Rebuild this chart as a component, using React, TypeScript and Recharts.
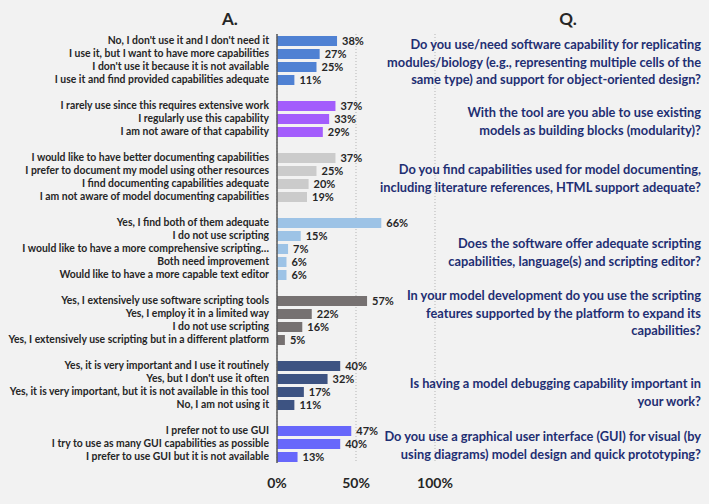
import React from "react";
import { BarChart, Bar, XAxis, YAxis, CartesianGrid, Cell, LabelList } from "recharts";

// answers per question, top to bottom
const replicationLabels = [
  "No, I don't use it and I don't need it",
  "I use it, but I want to have more capabilities",
  "I don't use it because it is not available",
  "I use it and find provided capabilities adequate",
];
const replicationValues = [38, 27, 25, 11];

const modularityLabels = [
  "I rarely use since this requires extensive work",
  "I regularly use this capability",
  "I am not aware of that capability",
];
const modularityValues = [37, 33, 29];

const documentingLabels = [
  "I would like to have better documenting capabilities",
  "I prefer to document my model using other resources",
  "I find documenting capabilities adequate",
  "I am not aware of model documenting capabilities",
];
const documentingValues = [37, 25, 20, 19];

const scriptingEditorLabels = [
  "Yes, I find both of them adequate",
  "I do not use scripting",
  "I would like to have a more comprehensive scripting…",
  "Both need improvement",
  "Would like to have a more capable text editor",
];
const scriptingEditorValues = [66, 15, 7, 6, 6];

const scriptingUseLabels = [
  "Yes, I extensively use software scripting tools",
  "Yes, I employ it in a limited way",
  "I do not use scripting",
  "Yes, I extensively use scripting but in a different platform",
];
const scriptingUseValues = [57, 22, 16, 5];

const debuggingLabels = [
  "Yes, it is very important and I use it routinely",
  "Yes, but I don't use it often",
  "Yes, it is very important, but it is not available in this tool",
  "No, I am not using it",
];
const debuggingValues = [40, 32, 17, 11];

const guiLabels = [
  "I prefer not to use GUI",
  "I try to use as many GUI capabilities as possible",
  "I prefer to use GUI but it is not available",
];
const guiValues = [47, 40, 13];

const questions = [
  ["Do you use/need software capability for replicating", "modules/biology (e.g., representing multiple cells of the", "same type) and support for object-oriented design?"],
  ["With the tool are you able to use existing", "models as building blocks (modularity)?"],
  ["Do you find capabilities used for model documenting,", "including literature references, HTML support adequate?"],
  ["Does the software offer adequate scripting", "capabilities, language(s) and scripting editor?"],
  ["In your model development do you use the scripting", "features supported by the platform to expand its", "capabilities?"],
  ["Is having a model debugging capability important in", "your work?"],
  ["Do you use a graphical user interface (GUI) for visual (by", "using diagrams) model design and quick prototyping?"],
];

const xTicks = [0, 50, 100];

const GROUP_COLORS = ["#4f81d3", "#a35dfc", "#cbcbcb", "#9dc3e6", "#767171", "#3d5382", "#6767fb"];
const QUESTION_TOPS = [36, 104, 161, 235, 287, 375, 428];
const FONT = "Lato, 'Open Sans', sans-serif";

const groups = [
  { labels: replicationLabels, values: replicationValues },
  { labels: modularityLabels, values: modularityValues },
  { labels: documentingLabels, values: documentingValues },
  { labels: scriptingEditorLabels, values: scriptingEditorValues },
  { labels: scriptingUseLabels, values: scriptingUseValues },
  { labels: debuggingLabels, values: debuggingValues },
  { labels: guiLabels, values: guiValues },
];

type Row = { key: string; label: string; value: number | null; color: string };

const rows: Row[] = [];
groups.forEach((g, gi) => {
  if (gi > 0) rows.push({ key: `gap-${gi}`, label: "", value: null, color: "none" });
  g.labels.forEach((label, i) =>
    rows.push({ key: `g${gi}-${i}`, label, value: g.values[i], color: GROUP_COLORS[gi] })
  );
});
const labelByKey = new Map(rows.map((r) => [r.key, r.label]));

// single-line answer label, no wrapping
function AnswerTick(props: any) {
  const { x, y, payload } = props;
  const text = labelByKey.get(payload.value) ?? "";
  if (!text) return null;
  return (
    <text
      x={x}
      y={y}
      dy="0.35em"
      textAnchor="end"
      fontSize={10.4}
      fontWeight={700}
      fill="#262626"
      fontFamily={FONT}
    >
      {text}
    </text>
  );
}

export default function App() {
  return (
    <div
      style={{
        position: "relative",
        width: 709,
        height: 504,
        background: "#f2f2f2",
        fontFamily: FONT,
        overflow: "hidden",
      }}
    >
      <style>{`body{margin:0}`}</style>
      <BarChart
        width={709}
        height={504}
        data={rows}
        layout="vertical"
        margin={{ top: 34, right: 274, bottom: 11, left: 0 }}
        barSize={10}
      >
        <CartesianGrid horizontal={false} stroke="#b5b5b5" strokeDasharray="1 2" />
        <XAxis
          type="number"
          domain={[0, 100]}
          ticks={xTicks}
          tickFormatter={(v) => `${v}%`}
          axisLine={false}
          tickLine={false}
          height={30}
          tickMargin={9}
          tick={{ fontSize: 14, fontWeight: 700, fill: "#262626", fontFamily: FONT }}
        />
        <YAxis
          type="category"
          dataKey="key"
          width={277}
          interval={0}
          tickLine={false}
          axisLine={{ stroke: "#595959", strokeWidth: 1.5 }}
          tick={<AnswerTick />}
        />
        <Bar dataKey="value" isAnimationActive={false}>
          {rows.map((r) => (
            <Cell key={r.key} fill={r.color} />
          ))}
          <LabelList
            dataKey="value"
            position="right"
            offset={5}
            formatter={(v: any) => (v == null ? "" : `${v}%`)}
            style={{ fontSize: 11, fontWeight: 700, fill: "#262626", fontFamily: FONT }}
          />
        </Bar>
      </BarChart>

      <div style={{ position: "absolute", left: 200, width: 60, top: 8, textAlign: "center", fontWeight: 700, fontSize: 17, color: "#262626" }}>
        A.
      </div>
      <div style={{ position: "absolute", left: 538, width: 60, top: 8, textAlign: "center", fontWeight: 700, fontSize: 17, color: "#262626" }}>
        Q.
      </div>

      {questions.map((lines, i) => (
        <div
          key={i}
          style={{
            position: "absolute",
            right: 8,
            top: QUESTION_TOPS[i],
            textAlign: "right",
            fontWeight: 700,
            fontSize: 12.8,
            lineHeight: "17.5px",
            color: "#1f2f73",
            whiteSpace: "nowrap",
          }}
        >
          {lines.map((l, j) => (
            <div key={j}>{l}</div>
          ))}
        </div>
      ))}
    </div>
  );
}
